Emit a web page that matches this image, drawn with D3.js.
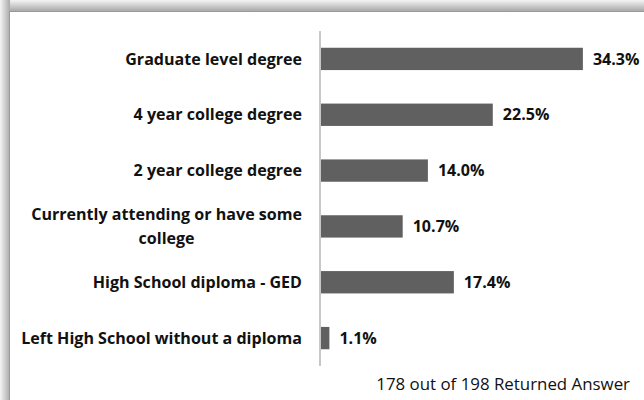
<!DOCTYPE html>
<html><head><meta charset="utf-8">
<script src="https://cdn.jsdelivr.net/npm/d3@7"></script>
<style>html,body{margin:0;padding:0;background:#fff;}svg{display:block;}</style>
</head><body>
<svg id="chart" width="644" height="400"></svg>
<script>
const categories = [
  "Graduate level degree",
  "4 year college degree",
  "2 year college degree",
  "Currently attending or have some college",
  "High School diploma - GED",
  "Left High School without a diploma"
];
const labelLines = [
  ["Graduate level degree"],
  ["4 year college degree"],
  ["2 year college degree"],
  ["Currently attending or have some", "college"],
  ["High School diploma - GED"],
  ["Left High School without a diploma"]
];
const values = [34.3, 22.5, 14.0, 10.7, 17.4, 1.1];
const footnote = "178 out of 198 Returned Answer";

const FONT = "'Open Sans', Lato, sans-serif";
const svg = d3.select("#chart");
const defs = svg.append("defs");
const gTop = defs.append("linearGradient").attr("id","gTop").attr("x1",0).attr("y1",0).attr("x2",0).attr("y2",1);
gTop.append("stop").attr("offset","0%").attr("stop-color","#f4f4f4");
gTop.append("stop").attr("offset","100%").attr("stop-color","#a9a9a9");
const gLeft = defs.append("linearGradient").attr("id","gLeft").attr("x1",0).attr("y1",0).attr("x2",1).attr("y2",0);
gLeft.append("stop").attr("offset","0%").attr("stop-color","#f4f4f4");
gLeft.append("stop").attr("offset","100%").attr("stop-color","#a9a9a9");

svg.append("rect").attr("x",0).attr("y",0).attr("width",644).attr("height",11).attr("fill","url(#gTop)");
svg.append("rect").attr("x",0).attr("y",0).attr("width",10).attr("height",400).attr("fill","url(#gLeft)");
svg.append("rect").attr("x",9.5).attr("y",11.5).attr("width",700).attr("height",500)
  .attr("fill","#fff").attr("stroke","#9a9a9a").attr("stroke-width",1);

// fit font sizes to measured widths of the reference
function fitSize(text, weight, target){
  const t = svg.append("text").attr("font-family",FONT).attr("font-weight",weight).attr("font-size",20).text(text);
  const w = t.node().getComputedTextLength(); t.remove();
  return 20*target/w;
}
const labelSize = fitSize("Left High School without a diploma","bold",281);
const footSize = fitSize(footnote,"normal",254);

const x = d3.scaleLinear().domain([0, 40]).range([321, 626.4]);
const y = d3.scaleBand().domain(categories).range([31, 366]).paddingInner(0.6).paddingOuter(0.3);

svg.selectAll("rect.bar").data(values).join("rect").attr("class","bar")
  .attr("x", x(0)).attr("y", (d,i)=>y(categories[i]))
  .attr("width", d=>x(d)-x(0)).attr("height", y.bandwidth())
  .attr("fill","#606060");

const axis = d3.axisLeft(y).tickSize(0).tickPadding(18).tickFormat(()=>"");
const ax = svg.append("g").attr("transform",`translate(320,0)`).call(axis);
ax.select(".domain").attr("stroke","#b4b4b4").attr("stroke-width",1.5).attr("d","M0,31V366");

ax.selectAll(".tick").each(function(d,i){
  const t = d3.select(this).select("text")
    .attr("x",-18).attr("dy",null).attr("text-anchor","end")
    .attr("font-family",FONT).attr("font-weight","bold")
    .attr("font-size",labelSize).attr("fill","#111");
  const lines = labelLines[i];
  const lh = 24;
  lines.forEach((ln,k)=>{
    t.append("tspan").attr("x",-18).attr("text-anchor","end")
      .attr("y", (k-(lines.length-1)/2)*lh).attr("dy","0.35em").text(ln);
  });
  if (lines.length>1){
    const w = d3.max(t.selectAll("tspan").nodes(), n=>n.getComputedTextLength());
    t.selectAll("tspan").attr("x", -18 - w/2).attr("text-anchor","middle");
  }
});

svg.selectAll("text.val").data(values).join("text").attr("class","val")
  .attr("x", d=>x(d)+10).attr("y",(d,i)=>y(categories[i])+y.bandwidth()/2).attr("dy","0.35em")
  .attr("font-family",FONT).attr("font-weight","bold").attr("font-size",labelSize)
  .attr("fill","#111").text(d=>d.toFixed(1)+"%");

svg.append("text").attr("x",630).attr("y",390).attr("text-anchor","end")
  .attr("font-family",FONT).attr("font-size",footSize).attr("fill","#111")
  .text(footnote);
</script>
</body></html>
